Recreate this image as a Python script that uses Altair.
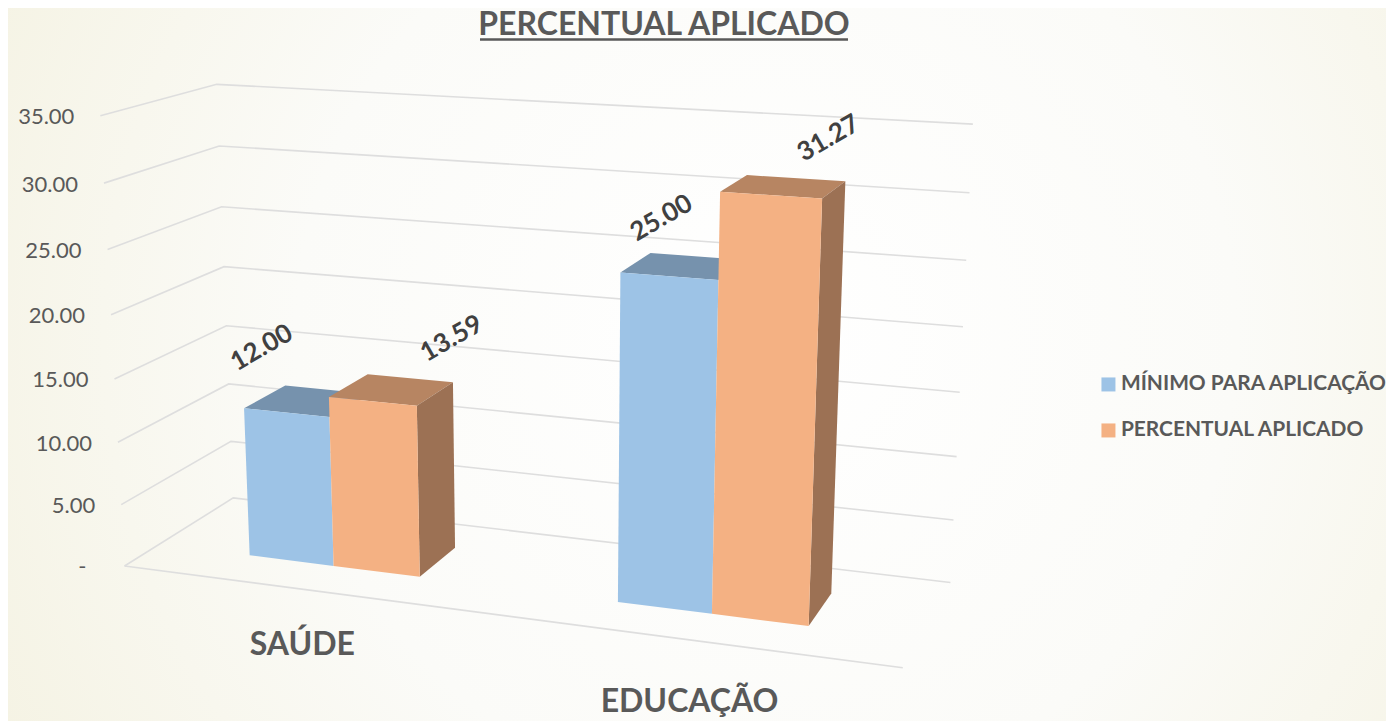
import numpy as np
import altair as alt

# ---- data ----
categories = ["SAÚDE", "EDUCAÇÃO"]
series = ["MÍNIMO PARA APLICAÇÃO", "PERCENTUAL APLICADO"]
minimo = [12.00, 25.00]
percentual = [13.59, 31.27]
tick_values = [0, 5, 10, 15, 20, 25, 30, 35]
tick_labels = ["-", "5.00", "10.00", "15.00", "20.00", "25.00", "30.00", "35.00"]

# ---- 3-D view of the chart box: (category axis, depth, value) -> page ----
VIEW = np.array([
    [677.733295, 130.274626, -0.842652, 124.544359],
    [27.499103, -21.944935, -13.038515, 565.969039],
    [-0.111344, 0.092540, -0.001513, 1.0],
])
BAR_W = 0.119
D0, D1 = 0.305, 0.70
FRONT = ["#9DC3E6", "#F4B183"]
TOP = ["#7692AD", "#B78562"]
SIDE = "#9C7154"
TEXT = "#595959"
FONT = "Lato"
PROJ = dict(type="identity", scale=1, translate=[-8, -8])
W, H = 1378, 713


def view(u, d, v):
    q = VIEW @ np.array([u, d, v, 1.0])
    return [float(q[0] / q[2]), float(q[1] / q[2])]


def face(corners, **props):
    ring = [view(*c) for c in corners]
    ring.append(ring[0])
    return {"type": "Feature", "properties": props,
            "geometry": {"type": "Polygon", "coordinates": [ring]}}


def polyline(corners):
    return {"type": "Feature", "properties": {},
            "geometry": {"type": "LineString", "coordinates": [view(*c) for c in corners]}}


fronts, tops, sides = [], [], []
for i, cat in enumerate(categories):
    c = (i + 0.5) / len(categories)
    for s, vals in enumerate([minimo, percentual]):
        a = c - BAR_W + s * BAR_W
        b = a + BAR_W
        v = vals[i]
        fronts.append(face([(a, D0, 0), (b, D0, 0), (b, D0, v), (a, D0, v)], series=series[s]))
        tops.append(face([(a, D0, v), (b, D0, v), (b, D1, v), (a, D1, v)], shade=TOP[s]))
        if s == 1:
            sides.append(face([(b, D0, 0), (b, D1, 0), (b, D1, v), (b, D0, v)], shade=SIDE))

grid = [polyline([(0, 0, v), (0, 1, v), (1, 1, v)]) for v in tick_values]
grid.append(polyline([(0, 0, 0), (1, 0, 0)]))

ticks = []
for v, lab in zip(tick_values, tick_labels):
    x, y = view(0, 0, v)
    ticks.append({"lon": x - (38 if v == 0 else 26), "lat": y + 1.5, "label": lab})

# label centres on the page, as offsets from the top of each bar
LABEL_OFFSET = [[(-45, -53), (-22, -48)], [(60, -51), (45, -48)]]
labels = []
for s, vals in enumerate([minimo, percentual]):
    for i, v in enumerate(vals):
        c = (i + 0.5) / len(categories)
        x, y = view(c - BAR_W / 2 + s * BAR_W, (D0 + D1) / 2, v)
        dx, dy = LABEL_OFFSET[s][i]
        labels.append({"lon": x + dx, "lat": y + dy, "label": f"{v:.2f}"})

CAT_OFFSET = [(0, 66), (-1, 72)]
cats = []
for i, cat in enumerate(categories):
    x, y = view((i + 0.5) / len(categories), 0, 0)
    cats.append({"lon": x + CAT_OFFSET[i][0], "lat": y + CAT_OFFSET[i][1], "label": cat})

bg = alt.Chart(alt.Data(values=[{"a": 1}])).mark_rect(
    fill=alt.RadialGradient(
        gradient="radial", x1=0.55, y1=0.48, x2=0.55, y2=0.48, r1=0, r2=0.62,
        stops=[
            alt.GradientStop(offset=0, color="#FFFFFF"),
            alt.GradientStop(offset=0.55, color="#FBFBF8"),
            alt.GradientStop(offset=1, color="#F5F3E4"),
        ],
    )
).encode(x=alt.value(0), x2=alt.value(W), y=alt.value(0), y2=alt.value(H))

grid_l = alt.Chart(alt.Data(values=grid)).mark_geoshape(
    filled=False, stroke="#DEDEDE", strokeWidth=1.6).project(**PROJ)
top_l = alt.Chart(alt.Data(values=tops)).mark_geoshape().encode(
    fill=alt.Fill("properties.shade:N", scale=None)).project(**PROJ)
side_l = alt.Chart(alt.Data(values=sides)).mark_geoshape().encode(
    fill=alt.Fill("properties.shade:N", scale=None)).project(**PROJ)
front_l = alt.Chart(alt.Data(values=fronts)).mark_geoshape().encode(
    fill=alt.Fill(
        "properties.series:N",
        scale=alt.Scale(domain=series, range=FRONT),
        legend=alt.Legend(
            title=None, orient="none", legendX=1090, legendY=366,
            symbolType="square", symbolSize=196, symbolStrokeWidth=0,
            labelFont=FONT, labelFontSize=20.9, labelFontWeight="bold",
            labelColor=TEXT, labelLimit=400, rowPadding=24, labelOffset=2,
        ),
    )).project(**PROJ)

tick_l = alt.Chart(alt.Data(values=ticks)).mark_text(
    font=FONT, fontSize=22, color=TEXT, align="right", baseline="middle"
).encode(longitude="lon:Q", latitude="lat:Q", text="label:N").project(**PROJ)
label_l = alt.Chart(alt.Data(values=labels)).mark_text(
    font=FONT, fontSize=26, fontWeight="bold", color="#404040", angle=330,
    align="center", baseline="middle"
).encode(longitude="lon:Q", latitude="lat:Q", text="label:N").project(**PROJ)
cat_l = alt.Chart(alt.Data(values=cats)).mark_text(
    font=FONT, fontSize=32, fontWeight="bold", color=TEXT,
    align="center", baseline="alphabetic"
).encode(longitude="lon:Q", latitude="lat:Q", text="label:N").project(**PROJ)
title_l = alt.Chart(alt.Data(values=[{"lon": 664, "lat": 35, "label": "PERCENTUAL APLICADO"}])).mark_text(
    font=FONT, fontSize=32, fontWeight="bold", color=TEXT,
    align="center", baseline="alphabetic"
).encode(longitude="lon:Q", latitude="lat:Q", text="label:N").project(**PROJ)
underline = alt.Chart(alt.Data(values=[{"a": 1}])).mark_rule(color=TEXT, strokeWidth=2.5).encode(
    x=alt.value(472), x2=alt.value(840), y=alt.value(31.5))

chart = alt.layer(bg, grid_l, top_l, side_l, front_l, tick_l, label_l, cat_l, title_l, underline).properties(
    width=W, height=H, padding=0,
    autosize=alt.AutoSizeParams(type="none"),
).resolve_scale(fill="independent").configure_view(stroke=None)

chart.save("out.html", embed_options={"renderer": "svg", "actions": False})
